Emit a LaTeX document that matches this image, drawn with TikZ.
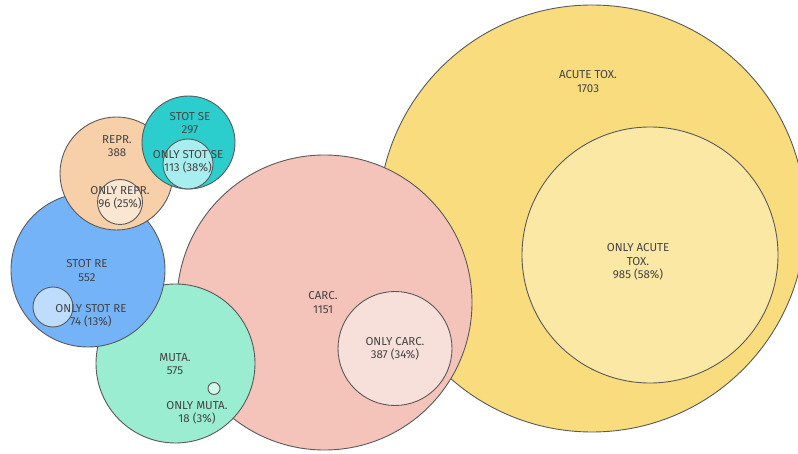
\documentclass[tikz,border=0pt]{standalone}
\usepackage{fontspec}
\setmainfont{Fira Sans}

\definecolor{acutefill}{HTML}{F8DC7E}
\definecolor{acuteonly}{HTML}{FBE8A5}
\definecolor{carcfill}{HTML}{F4C3B9}
\definecolor{carconly}{HTML}{F8E0DA}
\definecolor{mutafill}{HTML}{9BEDD2}
\definecolor{mutaonly}{HTML}{D4F7EA}
\definecolor{stotrefill}{HTML}{74B3F8}
\definecolor{stotreonly}{HTML}{BEDCFC}
\definecolor{reprfill}{HTML}{F7CFA9}
\definecolor{reproonly}{HTML}{FBE6D2}
\definecolor{stotsefill}{HTML}{2CCDCD}
\definecolor{stotseonly}{HTML}{A9EEEE}
\definecolor{setline}{HTML}{5A5A5A}
\definecolor{settext}{HTML}{444444}

\tikzset{
  setcircle/.style={draw=setline, line width=0.9pt},
  setlabel/.style={align=center, text=settext, inner sep=0pt,
    font=\fontsize{11.5}{13.5}\selectfont},
}

\begin{document}
\begin{tikzpicture}[x=1pt, y=-1pt]
	\useasboundingbox (0, 0) rectangle (798, 454);
	\clip (0, 0) rectangle (798, 454);
	%%%%% START %%%%%
	
	% acute tox
	\draw[setcircle, fill=acutefill] (592, 218.5) circle (213.5pt);
	\draw[setcircle, fill=acuteonly] (650, 255) circle (128pt);
	
	% carc
	\draw[setcircle, fill=carcfill] (324.5, 302.5) circle (147.5pt);
	\draw[setcircle, fill=carconly] (395, 348.5) circle (57pt);
	
	% muta
	\draw[setcircle, fill=mutafill] (175.5, 363.5) circle (79.5pt);
	\draw[setcircle, fill=mutaonly] (214, 388.5) circle (6pt);
	
	% stot re
	\draw[setcircle, fill=stotrefill] (88, 270) circle (77pt);
	\draw[setcircle, fill=stotreonly] (53, 307) circle (20pt);
	
	% repr
	\draw[setcircle, fill=reprfill] (116.5, 173.5) circle (56.5pt);
	\draw[setcircle, fill=reproonly] (120, 202) circle (22.5pt);
	
	% stot se
	\draw[setcircle, fill=stotsefill] (188.5, 142.5) circle (46.5pt);
	\draw[setcircle, fill=stotseonly] (188, 164) circle (25pt);
	
	% labels
	\node[setlabel] (acute) at (588, 81.5) {ACUTE TOX.\\1703};
	\node[setlabel] (onlyacute) at (638, 262) {ONLY ACUTE\\TOX.\\985 (58\%)};
	\node[setlabel] (carc) at (323, 302.5) {CARC.\\1151};
	\node[setlabel] (onlycarc) at (395, 349) {ONLY CARC.\\387 (34\%)};
	\node[setlabel] (muta) at (175, 364) {MUTA.\\575};
	\node[setlabel] (onlymuta) at (197, 413) {ONLY MUTA.\\18 (3\%)};
	\node[setlabel] (stotre) at (87, 270.5) {STOT RE\\552};
	\node[setlabel] (onlystotre) at (91, 316) {ONLY STOT RE\\74 (13\%)};
	\node[setlabel] (repr) at (117, 146) {REPR.\\388};
	\node[setlabel] (onlyrepr) at (120, 198) {ONLY REPR.\\96 (25\%)};
	\node[setlabel] (stotse) at (190, 123) {STOT SE\\297};
	\node[setlabel] (onlystotse) at (188, 162) {ONLY STOT SE\\113 (38\%)};
	
	%%%%% END %%%%%
\end{tikzpicture}
\end{document}
